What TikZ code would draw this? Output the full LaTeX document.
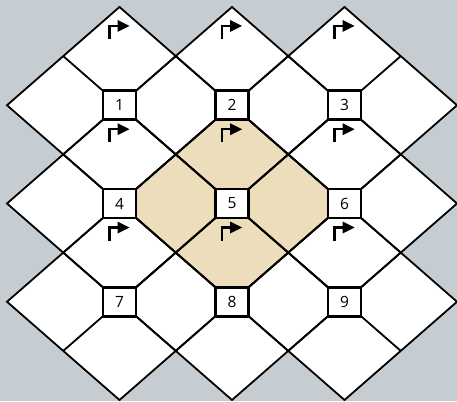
\documentclass[tikz,border=0pt]{standalone}
\usepackage{fontspec}
\setmainfont{Open Sans}
\definecolor{bggrey}{HTML}{C6CDD2}
\definecolor{tan}{HTML}{EDDEBB}
\begin{document}
\begin{tikzpicture}[x=56.25pt,y={(0pt,-49.125pt)},
  gridline/.style={line width=1.8pt,line join=miter},
  numbox/.style={draw,fill=white,line width=2.6pt,minimum width=33pt,minimum height=29pt,inner sep=0pt,font=\fontsize{15.5}{15.5}\selectfont},
  turnarrow/.pic={
    \draw[line width=2.2pt] (-10pt,-13pt) -- (-10pt,0pt) -- (0pt,0pt);
    \fill (-2pt,6pt) -- (10pt,0pt) -- (-2pt,-6pt) -- cycle;
  }]
\fill[bggrey] (-2.12444,-2.14249) rectangle (6.0,6.02036);
\useasboundingbox (-2.12444,-2.14249) rectangle (6.0,6.02036);
% white union
\fill[white] (0,-2)--(1,-1)--(2,-2)--(3,-1)--(4,-2)--(6,0)--(5,1)--(6,2)--(5,3)--(6,4)--(4,6)--(3,5)--(2,6)--(1,5)--(0,6)--(-2,4)--(-1,3)--(-2,2)--(-1,1)--(-2,0)--cycle;
% shaded diamond
\fill[tan] (2,0)--(4,2)--(2,4)--(0,2)--cycle;
% grid lines
\foreach \cx in {0,2,4}{
  \foreach \cy in {0,2,4}{
    \draw[gridline] (\cx,\cy-2)--(\cx+2,\cy)--(\cx,\cy+2)--(\cx-2,\cy)--cycle;
    \draw[gridline] (\cx-1,\cy-1)--(\cx+1,\cy+1);
    \draw[gridline] (\cx-1,\cy+1)--(\cx+1,\cy-1);
  }
}
% boxes
\node[numbox] (b1) at (0,0) {1};
\node[numbox] (b2) at (2,0) {2};
\node[numbox] (b3) at (4,0) {3};
\node[numbox] (b4) at (0,2) {4};
\node[numbox] (b5) at (2,2) {5};
\node[numbox] (b6) at (4,2) {6};
\node[numbox] (b7) at (0,4) {7};
\node[numbox] (b8) at (2,4) {8};
\node[numbox] (b9) at (4,4) {9};
% top vertices
\coordinate (t1) at (0,-2);
\coordinate (t2) at (2,-2);
\coordinate (t3) at (4,-2);
% arrows
\foreach \t in {t1,t2,t3}{
  \pic at ([yshift=-19pt]\t) {turnarrow};
}
\foreach \b in {b1,b2,b3,b4,b5,b6}{
  \pic at ([yshift=-24pt]\b.center) {turnarrow};
}
\end{tikzpicture}
\end{document}
